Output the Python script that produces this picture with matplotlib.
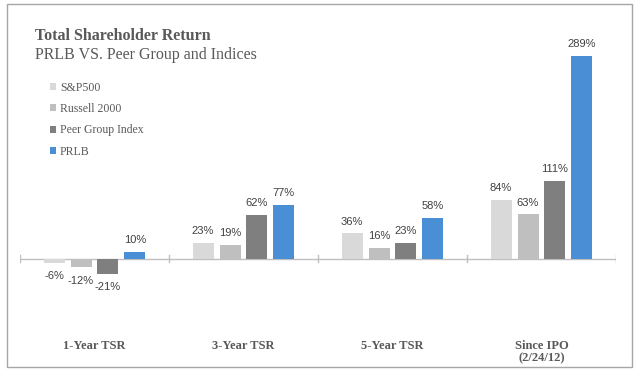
"""
Total shareholder return bar chart
"""
import matplotlib
matplotlib.use("Agg")
import matplotlib.pyplot as plt
import numpy as np
from matplotlib.patches import Rectangle

categories = ["1-Year TSR", "3-Year TSR", "5-Year TSR", "Since IPO\n(2/24/12)"]
series_names = ["S&P500", "Russell 2000", "Peer Group Index", "PRLB"]
sp500 = [-6, 23, 36, 84]
russell = [-12, 19, 16, 63]
peer_group = [-21, 62, 23, 111]
prlb = [10, 77, 58, 289]
series_colors = ["#d9d9d9", "#bfbfbf", "#7f7f7f", "#4a8fd6"]

W, H = 639, 375
fig = plt.figure(figsize=(W / 100, H / 100), dpi=100)
ax = fig.add_axes([20 / W, 1 - 329 / H, 596 / W, 281 / H])

xs = np.arange(len(categories))
step, width = 0.181, 0.141
all_series = [sp500, russell, peer_group, prlb]
for i, (vals, name, col) in enumerate(zip(all_series, series_names, series_colors)):
    pos = xs + (i - 1.5) * step
    bars = ax.bar(pos, vals, width, color=col, label=name, zorder=2)
    for b, v in zip(bars, vals):
        ax.annotate(f"{v}%", (b.get_x() + b.get_width() / 2, v),
                    xytext=(0, 5 if v >= 0 else -6), textcoords="offset points",
                    ha="center", va="bottom" if v >= 0 else "top",
                    fontsize=8, family="Liberation Sans", color="#404040")

ax.set_xlim(-0.5, len(categories) - 0.5)
ax.set_ylim(-100, 300)
ax.axhline(0, color="#bfbfbf", lw=1, zorder=1)
# category separators on the zero line
for sx in np.arange(len(categories) + 1) - 0.5:
    ax.plot([sx, sx], [-5, 5], color="#bfbfbf", lw=1, zorder=1)

for s in ax.spines.values():
    s.set_visible(False)
ax.set_yticks([])
ax.set_xticks(xs)
ax.set_xticklabels(categories, family="Liberation Serif", fontweight="bold",
                   fontsize=9, color="#595959", linespacing=1.05)
ax.tick_params(axis="x", length=0, pad=8)

fig.text(35 / W, 1 - 36 / H, "Total Shareholder Return", family="Liberation Serif",
         fontweight="bold", fontsize=11.5, color="#595959", va="center")
fig.text(35 / W, 1 - 55 / H, "PRLB VS. Peer Group and Indices", family="Liberation Serif",
         fontsize=11.5, color="#595959", va="center")

leg = ax.legend(loc="upper left", bbox_to_anchor=(44 / W, 1 - 76 / H),
                bbox_transform=fig.transFigure, frameon=False,
                prop={"family": "Liberation Serif", "size": 8.5},
                handlelength=0.55, handleheight=0.55, handletextpad=0.3,
                labelspacing=0.78, borderpad=0)
for t in leg.get_texts():
    t.set_color("#595959")

fig.patches.append(Rectangle((7 / W, 1 - 367 / H), 625 / W, 363 / H,
                             transform=fig.transFigure, fill=False,
                             edgecolor="#a6a6a6", lw=1))

plt.savefig("out.png", dpi=100)
plt.close(fig)
